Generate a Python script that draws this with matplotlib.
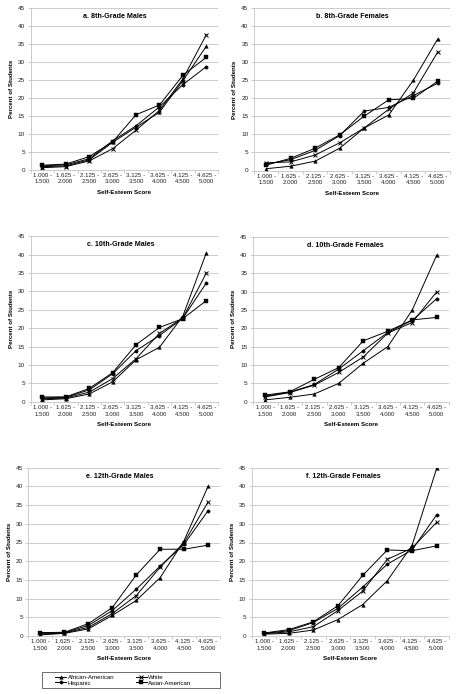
import matplotlib
matplotlib.use("Agg")
import matplotlib.pyplot as plt
from matplotlib.lines import Line2D
from matplotlib.patches import Rectangle
import numpy as np

plt.rcParams['font.family'] = ['Liberation Sans', 'DejaVu Sans']

categories = ["1.000 -\n1.500", "1.625 -\n2.000", "2.125 -\n2.500", "2.625 -\n3.000",
              "3.125 -\n3.500", "3.625 -\n4.000", "4.125 -\n4.500", "4.625 -\n5.000"]
series_names = ["African-American", "White", "Hispanic", "Asian-American"]
titles = ["a. 8th-Grade Males", "b. 8th-Grade Females", "c. 10th-Grade Males",
          "d. 10th-Grade Females", "e. 12th-Grade Males", "f. 12th-Grade Females"]

# a. 8th-grade males
a_african = [0.8, 1.0, 2.7, 7.6, 11.8, 16.0, 24.8, 34.4]
a_white = [0.5, 0.8, 2.4, 5.8, 11.0, 16.5, 25.3, 37.6]
a_hispanic = [1.0, 1.3, 3.0, 8.0, 12.2, 17.5, 23.7, 28.7]
a_asian = [1.2, 1.5, 3.6, 7.7, 15.3, 18.0, 26.3, 31.3]
# b. 8th-grade females
b_african = [0.5, 1.2, 2.6, 6.2, 11.8, 15.4, 25.0, 36.5]
b_white = [2.1, 2.4, 4.3, 7.7, 11.8, 17.0, 21.5, 32.9]
b_hispanic = [1.8, 3.0, 5.6, 9.7, 16.5, 17.5, 20.8, 24.2]
b_asian = [1.5, 3.4, 6.2, 9.9, 15.1, 19.6, 20.0, 24.8]
# c. 10th-grade males
c_african = [0.5, 0.8, 2.1, 5.4, 11.4, 14.8, 23.3, 40.5]
c_white = [0.8, 1.0, 2.6, 6.3, 11.7, 18.6, 22.8, 35.0]
c_hispanic = [1.0, 1.2, 3.2, 7.6, 13.9, 18.0, 22.7, 32.3]
c_asian = [1.3, 1.3, 3.6, 7.9, 15.5, 20.2, 22.6, 27.5]
# d. 10th-grade females
d_african = [0.5, 1.2, 2.1, 5.0, 10.5, 15.0, 25.0, 40.0]
d_white = [1.3, 2.5, 4.5, 8.0, 12.2, 18.7, 21.6, 30.0]
d_hispanic = [1.5, 2.6, 4.7, 8.9, 13.9, 18.9, 22.2, 28.1]
d_asian = [1.8, 2.7, 6.1, 9.3, 16.6, 19.2, 22.3, 23.0]
# e. 12th-grade males
e_african = [0.3, 0.7, 1.9, 5.5, 9.5, 15.6, 25.5, 40.0]
e_white = [0.5, 0.8, 2.3, 6.0, 10.8, 18.4, 25.0, 35.8]
e_hispanic = [0.7, 0.9, 2.8, 6.8, 12.5, 18.7, 24.5, 33.5]
e_asian = [0.9, 1.0, 3.3, 7.6, 16.3, 23.2, 23.2, 24.3]
# f. 12th-grade females
f_african = [0.5, 0.7, 1.6, 4.4, 8.4, 14.8, 24.2, 44.8]
f_white = [0.6, 1.1, 2.5, 6.8, 12.0, 20.5, 23.5, 30.4]
f_hispanic = [0.7, 1.4, 3.6, 7.4, 13.1, 19.2, 23.0, 32.4]
f_asian = [0.8, 1.7, 3.8, 8.1, 16.2, 23.0, 22.8, 24.1]

panels = [
    [a_african, a_white, a_hispanic, a_asian],
    [b_african, b_white, b_hispanic, b_asian],
    [c_african, c_white, c_hispanic, c_asian],
    [d_african, d_white, d_hispanic, d_asian],
    [e_african, e_white, e_hispanic, e_asian],
    [f_african, f_white, f_hispanic, f_asian],
]

markers = ['^', 'x', 'o', 's']
msizes = [2.6, 3.0, 2.4, 2.4]

W, H = 460, 694
# pixel boxes: left, right, top, bottom
boxes = [
    (30.7, 218, 8.3, 169.5),
    (254, 450, 8.3, 170.5),
    (30.7, 218, 236.3, 401.7),
    (253, 449, 236.7, 401.7),
    (28.5, 220, 467.7, 636),
    (251.7, 449, 467.7, 636),
]
title_x = [115, 352, 121, 345, 120, 343]

fig = plt.figure(figsize=(W / 100, H / 100), dpi=100)
grid_c = '#c4c4c4'
x = np.arange(len(categories))

for i, (vals, box) in enumerate(zip(panels, boxes)):
    L, R, T, B = box
    ax = fig.add_axes([L / W, 1 - B / H, (R - L) / W, (B - T) / H])
    for s, m, ms in zip(vals, markers, msizes):
        ax.plot(x, s, color='black', lw=0.7, marker=m, ms=ms,
                mew=0.7 if m == 'x' else 0.3, mfc='black', mec='black')
    ax.set_xlim(-0.5, 7.5)
    ax.set_ylim(0, 45)
    ax.set_yticks(np.arange(0, 46, 5))
    ax.set_xticks(x)
    ax.set_xticklabels(categories, fontsize=4.4, color='#222222', linespacing=1.35)
    ax.set_xticks(np.arange(-0.5, 8, 1), minor=True)
    ax.tick_params(axis='x', which='major', length=0, pad=2.5)
    ax.tick_params(axis='x', which='minor', length=2, color=grid_c, width=0.6)
    ax.tick_params(axis='y', length=2, width=0.6, color=grid_c, pad=2,
                   labelsize=4.6, labelcolor='#222222')
    ax.yaxis.grid(True, color=grid_c, lw=0.6)
    ax.set_axisbelow(True)
    for sp in ['top', 'right']:
        ax.spines[sp].set_visible(False)
    for sp in ['left', 'bottom']:
        ax.spines[sp].set_color(grid_c)
        ax.spines[sp].set_linewidth(0.6)
    ax.set_ylabel("Percent of Students", fontsize=4.4, fontweight='bold', labelpad=3)
    ax.set_xlabel("Self-Esteem Score", fontsize=4.4, fontweight='bold', labelpad=4)
    tx = (title_x[i] - L) / (R - L)
    ax.text(tx, 0.948, titles[i], transform=ax.transAxes, ha='center', va='center',
            fontsize=5.1, fontweight='bold')

handles = [Line2D([0], [0], color='black', lw=0.7, marker=m, ms=ms, mfc='black', mec='black',
                  mew=0.7 if m == 'x' else 0.3)
           for m, ms in zip(markers, msizes)]
order = [0, 2, 1, 3]
leg = fig.legend([handles[k] for k in order], [series_names[k] for k in order],
                 ncol=2, loc='center left', bbox_to_anchor=(55 / W, 1 - 680 / H),
                 fontsize=4.4, frameon=False, borderpad=0, borderaxespad=0,
                 handlelength=1.85, handletextpad=0.2, columnspacing=3.5, labelspacing=0.1)
fig.patches.append(Rectangle((41.7 / W, 1 - 688 / H), (220 - 41.7) / W, 16.3 / H,
                             transform=fig.transFigure, fill=False,
                             edgecolor='#555555', lw=0.6))

fig.savefig("out.png", dpi=100)
